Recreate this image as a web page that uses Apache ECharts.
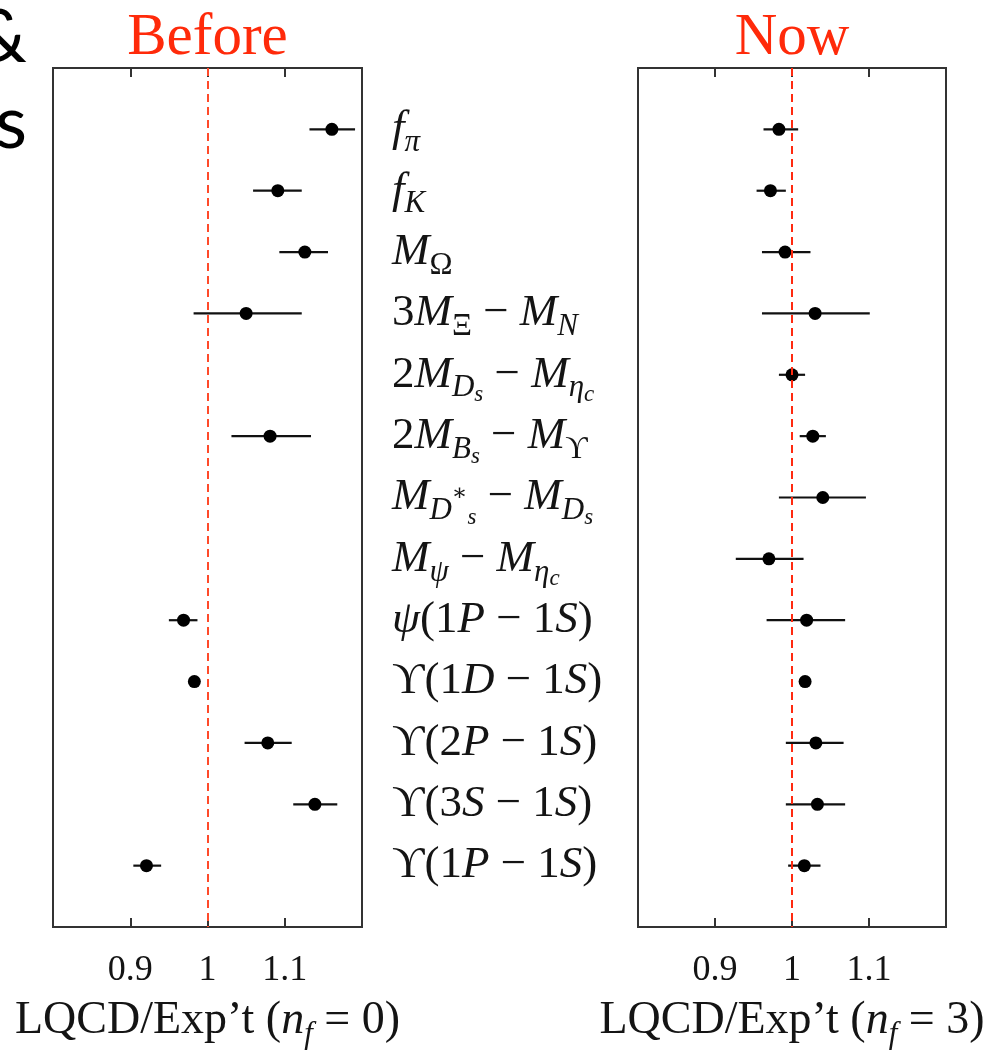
<!DOCTYPE html>
<html><head><meta charset="utf-8">
<script src="https://cdn.jsdelivr.net/npm/echarts@6/dist/echarts.min.js"></script>
<style>html,body{margin:0;padding:0;background:#fff}#c{width:990px;height:1057px}</style>
</head><body><div id="c"></div>
<script>
// ---- data ----
const categories = ['f_pi','f_K','M_Omega','3M_Xi - M_N','2M_Ds - M_etac','2M_Bs - M_Upsilon','M_Ds* - M_Ds','M_psi - M_etac','psi(1P-1S)','Upsilon(1D-1S)','Upsilon(2P-1S)','Upsilon(3S-1S)','Upsilon(1P-1S)'];
const categoryMath = [
  '{i|f}{s|π}',
  '{i|f}{s|K}',
  '{i|M}{sr|Ω}',
  '{r|3}{i|M}{sr|Ξ}{r| − }{i|M}{s|N}',
  '{r|2}{i|M}{s|D}{ss|s}{r| − }{i|M}{s|η}{ss|c}',
  '{r|2}{i|M}{s|B}{ss|s}{r| − }{i|M}{sr|ϒ}',
  '{i|M}{s|D}{st|∗}{ss|s}{r| − }{i|M}{s|D}{ss|s}',
  '{i|M}{s|ψ}{r| − }{i|M}{s|η}{ss|c}',
  '{i|ψ}{r|(1}{i|P}{r| − 1}{i|S}{r|)}',
  '{r|ϒ(1}{i|D}{r| − 1}{i|S}{r|)}',
  '{r|ϒ(2}{i|P}{r| − 1}{i|S}{r|)}',
  '{r|ϒ(3}{i|S}{r| − 1}{i|S}{r|)}',
  '{r|ϒ(1}{i|P}{r| − 1}{i|S}{r|)}'
];
const beforeValue = [1.161, 1.091, 1.126, 1.050, null, 1.081, null, null, 0.969, 0.983, 1.078, 1.139, 0.921];
const beforeLow   = [1.132, 1.059, 1.093, 0.982, null, 1.031, null, null, 0.950, null, 1.048, 1.111, 0.904];
const beforeHigh  = [1.191, 1.122, 1.156, 1.122, null, 1.134, null, null, 0.987, null, 1.109, 1.168, 0.940];
const nowValue = [0.983, 0.972, 0.991, 1.030, 1.000, 1.027, 1.040, 0.970, 1.019, 1.017, 1.031, 1.033, 1.016];
const nowLow   = [0.963, 0.954, 0.961, 0.961, 0.983, 1.010, 0.983, 0.927, 0.967, null, 0.992, 0.992, 0.995];
const nowHigh  = [1.008, 0.992, 1.024, 1.101, 1.017, 1.044, 1.096, 1.015, 1.069, null, 1.067, 1.069, 1.037];
const xTicks = [0.9, 1, 1.1];
const xMin = 0.8, xMax = 1.2;
const yMin = 0, yMax = 14;
const referenceValue = 1;
const panelTitles = ['Before', 'Now'];
const axisTitles = ["{r|LQCD/Exp’t (}{i|n}{s|f}{r| = 0)}", "{r|LQCD/Exp’t (}{i|n}{s|f}{r| = 3)}"];
const sideText = ['&', 's'];

// ---- styles ----
const SERIF = '"Liberation Serif", "DejaVu Serif", serif';
const TXT = '#141414';
const rich = {
  i:  {fontFamily: SERIF, fontStyle: 'italic', fontSize: 45, color: TXT},
  r:  {fontFamily: SERIF, fontSize: 45, color: TXT},
  s:  {fontFamily: SERIF, fontStyle: 'italic', fontSize: 31, color: TXT, padding: [27, 0, 0, 0]},
  sr: {fontFamily: SERIF, fontSize: 31, color: TXT, padding: [27, 0, 0, 0]},
  ss: {fontFamily: SERIF, fontStyle: 'italic', fontSize: 23, color: TXT, padding: [41, 0, 0, 0]},
  st: {fontFamily: SERIF, fontSize: 23, color: TXT, padding: [0, 0, 8, 0]}
};
const titleRich = {
  i: {fontFamily: SERIF, fontStyle: 'italic', fontSize: 46, color: TXT},
  r: {fontFamily: SERIF, fontSize: 46, color: TXT},
  s: {fontFamily: SERIF, fontStyle: 'italic', fontSize: 31, color: TXT, padding: [28, 0, 0, 0]}
};
const grids = [
  {left: 53, top: 68, width: 309, height: 859},
  {left: 638, top: 68, width: 308, height: 859}
];
const redColors = ['#ff4a2a', '#ff2a10'];
const TICK_LEN = 9;
const tickStyle = {color: '#333', width: 2};

const xAxes = [];
const yAxes = [];
const series = [];
[0, 1].forEach(g => {
  xAxes.push({
    type: 'value', gridIndex: g, min: xMin, max: xMax, position: 'bottom',
    axisLine: {show: false, onZero: false}, splitLine: {show: false},
    axisTick: {show: true, inside: true, length: TICK_LEN, customValues: xTicks, lineStyle: tickStyle},
    axisLabel: {show: true, customValues: xTicks, margin: 26, formatter: v => String(+v.toFixed(2)),
      fontFamily: SERIF, fontSize: 36, color: TXT},
    name: axisTitles[g], nameLocation: 'middle', nameGap: 64,
    nameTextStyle: {rich: titleRich}
  });
  xAxes.push({
    type: 'value', gridIndex: g, min: xMin, max: xMax, position: 'top',
    axisLine: {show: false, onZero: false}, splitLine: {show: false},
    axisTick: {show: false}, axisLabel: {show: false},
    name: panelTitles[g], nameLocation: 'middle', nameGap: 0,
    nameTextStyle: {fontFamily: SERIF, fontSize: 59, color: '#ff2a0a'}
  });
  yAxes.push({
    type: 'value', gridIndex: g, min: yMin, max: yMax, interval: 1, inverse: true,
    position: 'right',
    axisLine: {show: false, onZero: false}, axisTick: {show: false}, splitLine: {show: false},
    axisLabel: {show: g === 0, margin: 30, align: 'left',
      formatter: v => categoryMath[v - 1] || '', rich: rich}
  });
});

// inward ticks on the top edge, as short markLine segments in data coordinates
function topTickSeries(g) {
  const span = TICK_LEN * (yMax - yMin) / grids[g].height;
  return {
    type: 'line', xAxisIndex: g * 2, yAxisIndex: g, z: 5, silent: true, data: [],
    markLine: {silent: true, symbol: 'none', label: {show: false}, animation: false,
      lineStyle: {color: '#333', type: 'solid', width: 2, opacity: 1},
      data: xTicks.map(v => [{coord: [v, yMin]}, {coord: [v, yMin + span]}])}
  };
}
function errSeries(g, low, high) {
  const data = [];
  low.forEach((lo, k) => { if (lo != null && high[k] != null) data.push([lo, high[k], k + 1]); });
  return {
    type: 'custom', xAxisIndex: g * 2, yAxisIndex: g, z: 3, silent: true,
    encode: {x: [0, 1], y: 2},
    data: data,
    renderItem: (params, api) => {
      const p1 = api.coord([api.value(0), api.value(2)]);
      const p2 = api.coord([api.value(1), api.value(2)]);
      return {type: 'line', shape: {x1: p1[0], y1: p1[1], x2: p2[0], y2: p2[1]},
        style: {stroke: '#111', lineWidth: 2.2}};
    }
  };
}
function dotSeries(g, vals) {
  const data = [];
  vals.forEach((v, k) => { if (v != null) data.push([v, k + 1]); });
  return {
    type: 'scatter', xAxisIndex: g * 2, yAxisIndex: g, z: 4, silent: true,
    symbol: 'circle', symbolSize: 13, itemStyle: {color: '#000', opacity: 1},
    data: data
  };
}
function refSeries(g) {
  return {
    type: 'line', xAxisIndex: g * 2, yAxisIndex: g, z: 2, silent: true, data: [],
    markLine: {silent: true, symbol: 'none', label: {show: false},
      lineStyle: {color: redColors[g], type: [8, 5], width: 2, opacity: 1},
      data: [{xAxis: referenceValue}]}
  };
}
series.push(topTickSeries(0), refSeries(0), errSeries(0, beforeLow, beforeHigh), dotSeries(0, beforeValue));
series.push(topTickSeries(1), refSeries(1), errSeries(1, nowLow, nowHigh), dotSeries(1, nowValue));

const chart = echarts.init(document.getElementById('c'), null, {renderer: 'canvas'});
chart.setOption({
  backgroundColor: '#fff',
  animation: false,
  grid: grids.map(r => Object.assign({show: true, borderColor: '#333', borderWidth: 2,
    backgroundColor: 'transparent', containLabel: false, outerBoundsMode: 'none'}, r)),
  xAxis: xAxes,
  yAxis: yAxes,
  series: series,
  graphic: [
    {type: 'text', x: 27, y: 38, style: {text: sideText[0], fontFamily: 'Lato', fontSize: 74, fill: '#000', align: 'right', verticalAlign: 'middle'}},
    {type: 'text', x: 27, y: 124, style: {text: sideText[1], fontFamily: 'Lato', fontSize: 74, fill: '#000', align: 'right', verticalAlign: 'middle'}}
  ]
});
</script></body></html>
